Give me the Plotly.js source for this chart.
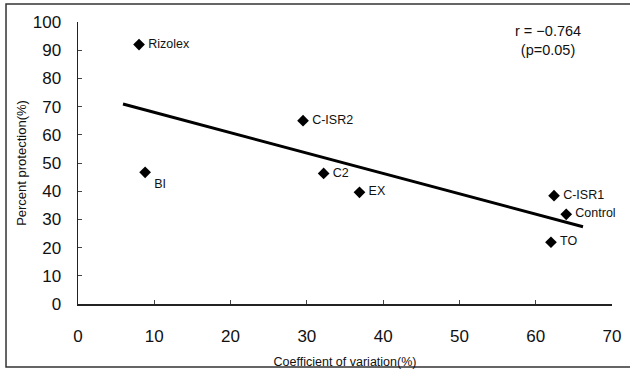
<!DOCTYPE html>
<html>
<head>
<meta charset="utf-8">
<script src="https://cdn.plot.ly/plotly-3.0.1.min.js"></script>
<style>html,body{margin:0;padding:0;background:#fff;}#chart{width:630px;height:374px;}</style>
</head>
<body>
<div id="chart"></div>
<script>
// Data
var treatments = ["Rizolex", "BI", "C-ISR2", "C2", "EX", "C-ISR1", "Control", "TO"];
var coefVariation = [8.0, 8.8, 29.5, 32.2, 36.9, 62.4, 64.0, 62.0];
var percentProtection = [92, 46.7, 65, 46.3, 39.6, 38.4, 31.8, 21.9];
var fitLineX = [5.9, 66.2];
var fitLineY = [70.9, 27.4];
var xTickVals = [0, 10, 20, 30, 40, 50, 60, 70];
var yTickVals = [0, 10, 20, 30, 40, 50, 60, 70, 80, 90, 100];
var statText = "r = \u22120.764<br>(p=0.05)";

var font = "Liberation Sans, Arial, sans-serif";
var labelPos = treatments.map(function (t) { return t === "BI" ? "bottom right" : "middle right"; });

var traces = [
  {
    x: fitLineX, y: fitLineY, mode: "lines", type: "scatter",
    line: {color: "#000", width: 3}, hoverinfo: "skip", showlegend: false
  },
  {
    x: coefVariation, y: percentProtection, text: treatments.map(function (t) { return "\u2009" + t; }),
    mode: "markers+text", type: "scatter", textposition: labelPos,
    textfont: {family: font, size: 12.5, color: "#111"},
    marker: {symbol: "diamond", size: 9, color: "#000"},
    showlegend: false, cliponaxis: false
  }
];

var layout = {
  width: 630, height: 374,
  margin: {l: 78, r: 18, t: 22, b: 70},
  paper_bgcolor: "#fff", plot_bgcolor: "#fff",
  font: {family: font, color: "#111"},
  xaxis: {
    range: [0, 70], tickvals: xTickVals, ticktext: xTickVals.map(String),
    showgrid: false, zeroline: false, showline: true, linecolor: "#222", linewidth: 1.5,
    ticks: "inside", ticklen: 4, tickcolor: "#444",
    ticklabelstandoff: 16,
    tickfont: {family: font, size: 17, color: "#111"},
    title: {text: "Coefficient of variation(%)", font: {family: font, size: 12.5, color: "#111"}, standoff: 12},
    automargin: false
  },
  yaxis: {
    range: [0, 100], tickvals: yTickVals, ticktext: yTickVals.map(String),
    showgrid: false, zeroline: false, showline: true, linecolor: "#222", linewidth: 1.5,
    ticks: "inside", ticklen: 4, tickcolor: "#444",
    ticklabelstandoff: 12,
    tickfont: {family: font, size: 17, color: "#111"},
    title: {text: "Percent protection(%)", font: {family: font, size: 13, color: "#111"}, standoff: 3},
    automargin: false
  },
  annotations: [
    {
      xref: "paper", yref: "paper", x: 0.88, y: 0.936, xanchor: "center", yanchor: "middle",
      text: statText, showarrow: false, align: "center",
      font: {family: font, size: 14.5, color: "#111"}
    }
  ],
  shapes: [
    {
      type: "rect", xref: "paper", yref: "paper",
      x0: -0.1348, x1: 1.04, y0: -0.2234, y1: 1.0638,
      line: {color: "#333", width: 1.5}, fillcolor: "rgba(0,0,0,0)", layer: "below"
    }
  ]
};

Plotly.newPlot("chart", traces, layout, {displayModeBar: false, staticPlot: true});
</script>
</body>
</html>
